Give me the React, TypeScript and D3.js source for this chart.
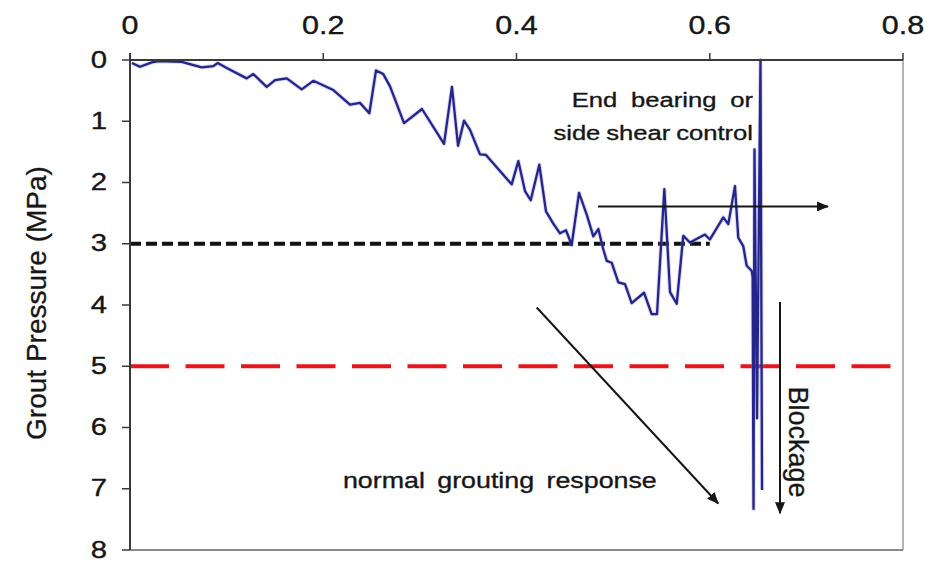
import React from "react";
import * as d3 from "d3";

// Grout pressure trace: volume fraction (x) vs grout pressure in MPa (y, increasing downward)
const traceX = [
  0.002, 0.0103, 0.0225, 0.0293, 0.0535, 0.0742, 0.0862, 0.0908, 0.1001, 0.1208,
  0.1276, 0.1415, 0.1501, 0.1622, 0.1777, 0.1897, 0.2104, 0.2277, 0.238, 0.2477,
  0.2546, 0.2621, 0.2691, 0.2836, 0.3022, 0.325, 0.3332, 0.3395, 0.3457, 0.3519,
  0.3622, 0.3684, 0.395, 0.4019, 0.4088, 0.4147, 0.4236, 0.4305, 0.4381, 0.445,
  0.4512, 0.4571, 0.4647, 0.4726, 0.4795, 0.4847, 0.4898, 0.4934, 0.4985, 0.5054,
  0.5123, 0.5192, 0.532, 0.5399, 0.5454, 0.553, 0.5589, 0.5658, 0.5726, 0.5795,
  0.595, 0.6002, 0.614, 0.6192, 0.6261, 0.6295, 0.6347, 0.6382, 0.6434, 0.6444,
  0.6453, 0.6463, 0.6489, 0.6525, 0.6541,
];
const traceY = [
  0.05, 0.11, 0.04, 0.02, 0.03, 0.12, 0.1, 0.05, 0.13, 0.3,
  0.23, 0.44, 0.33, 0.3, 0.48, 0.34, 0.49, 0.73, 0.7, 0.87,
  0.17, 0.23, 0.43, 1.03, 0.8, 1.37, 0.44, 1.4, 0.99, 1.14,
  1.54, 1.55, 2.03, 1.65, 2.14, 2.29, 1.71, 2.47, 2.67, 2.83,
  2.78, 3.02, 2.17, 2.52, 2.88, 2.76, 3.09, 3.28, 3.31, 3.63,
  3.66, 3.97, 3.8, 4.15, 4.15, 2.11, 3.79, 3.98, 2.87, 2.98,
  2.85, 2.93, 2.57, 2.68, 2.06, 2.9, 3.04, 3.36, 3.44, 3.55,
  7.33, 1.46, 5.85, 0.0, 7.02,
];

const xTicks = [0, 0.2, 0.4, 0.6, 0.8];
const xTickLabels = ["0", "0.2", "0.4", "0.6", "0.8"];
const yTicks = [0, 1, 2, 3, 4, 5, 6, 7, 8];
const yTickLabels = ["0", "1", "2", "3", "4", "5", "6", "7", "8"];

// Reference pressure levels
const controlPressure = 3; // black dashed
const controlPressureEnd = 0.6;
const limitPressure = 5; // red dashed

const W = 940;
const H = 562;
const margin = { left: 130, right: 37, top: 60, bottom: 12 };
const FONT = "'Liberation Sans', Arial, Helvetica, sans-serif";
const SX = 1.22; // horizontal glyph stretch
const INK = "#161616";

type Pt = [number, number];

export default function App() {
  const x = d3
    .scaleLinear()
    .domain([0, 0.8])
    .range([margin.left, W - margin.right]);
  const y = d3
    .scaleLinear()
    .domain([0, 8])
    .range([margin.top, H - margin.bottom]);

  const pts: Pt[] = traceX.map((v, i) => [v, traceY[i]]);
  const line = d3
    .line<Pt>()
    .x((d) => x(d[0]))
    .y((d) => y(d[1]));

  const x0 = x(0);
  const x1 = x(0.8);
  const y0 = y(0);
  const y1 = y(8);

  const stretchedText = (
    px: number,
    py: number,
    txt: string,
    size: number,
    anchor: "start" | "middle" | "end",
    key?: string,
    wordSpacing = 0
  ) => (
    <text
      key={key}
      transform={`translate(${px},${py}) scale(${SX},1)`}
      fontFamily={FONT}
      fontSize={size}
      textAnchor={anchor}
      fill={INK}
      stroke={INK}
      strokeWidth={0.35}
      style={{ wordSpacing: `${wordSpacing}px` }}
    >
      {txt}
    </text>
  );

  const arrows: { from: Pt; to: Pt }[] = [
    { from: [0.4843, 2.39], to: [0.7224, 2.39] },
    { from: [0.4209, 4.04], to: [0.6088, 7.24] },
    { from: [0.6727, 3.95], to: [0.6727, 7.4] },
  ];

  return (
    <svg
      width={W}
      height={H}
      style={{ position: "absolute", left: 0, top: 0, background: "#fff" }}
    >
      <defs>
        <marker
          id="head"
          viewBox="0 0 12 10"
          refX="11"
          refY="5"
          markerWidth="12"
          markerHeight="10"
          markerUnits="userSpaceOnUse"
          orient="auto"
        >
          <path d="M0,0 L12,5 L0,10 Z" fill={INK} />
        </marker>
      </defs>

      {/* plot frame: right and bottom edges */}
      <line x1={x1} x2={x1} y1={y0} y2={y1} stroke="#9a9a9a" strokeWidth={1.5} />
      <line x1={x0} x2={x1} y1={y1} y2={y1} stroke="#8a8a8a" strokeWidth={2} />

      {/* reference pressure levels */}
      <line
        x1={x(0)}
        x2={x(controlPressureEnd)}
        y1={y(controlPressure)}
        y2={y(controlPressure)}
        stroke="#111"
        strokeWidth={4}
        strokeDasharray="11,5"
      />
      <line
        x1={x(0)}
        x2={x(0.8)}
        y1={y(limitPressure)}
        y2={y(limitPressure)}
        stroke="#e8141c"
        strokeWidth={4}
        strokeDasharray="39,16.5"
      />

      {/* pressure trace */}
      <path
        d={line(pts) || ""}
        fill="none"
        stroke="#8a8ad8"
        strokeOpacity={0.35}
        strokeWidth={4.2}
        strokeLinejoin="round"
      />
      <path
        d={line(pts) || ""}
        fill="none"
        stroke="#24248a"
        strokeWidth={2.3}
        strokeLinejoin="round"
      />

      {/* annotation arrows */}
      {arrows.map((a, i) => (
        <line
          key={i}
          x1={x(a.from[0])}
          y1={y(a.from[1])}
          x2={x(a.to[0])}
          y2={y(a.to[1])}
          stroke={INK}
          strokeWidth={2}
          markerEnd="url(#head)"
        />
      ))}

      {/* annotation labels */}
      {stretchedText(x(0.6448), y(0.76), "End bearing or", 21, "end", "a1", 5.5)}
      {stretchedText(x(0.6448), y(1.3), "side shear control", 21, "end", "a2", -1)}
      {stretchedText(x(0.2204), y(6.99), "normal grouting response", 22, "start", "a3", 4)}
      <text
        transform={`translate(${x(0.6825)},${y(5.33)}) rotate(90)`}
        fontFamily={FONT}
        fontSize={27}
        textAnchor="start"
        fill={INK}
        stroke={INK}
        strokeWidth={0.3}
      >
        Blockage
      </text>

      {/* top x axis */}
      <line x1={x0} x2={x1} y1={y0} y2={y0} stroke="#3a3a3a" strokeWidth={2} />
      {xTicks.map((t, i) => (
        <g key={`xt${i}`}>
          <line x1={x(t)} x2={x(t)} y1={y0 - 7} y2={y0} stroke="#3a3a3a" strokeWidth={1.5} />
          {stretchedText(x(t), 34, xTickLabels[i], 25, "middle")}
        </g>
      ))}

      {/* left y axis */}
      <line x1={x0} x2={x0} y1={y0 - 7} y2={y1} stroke="#3a3a3a" strokeWidth={2} />
      {yTicks.map((t, i) => (
        <g key={`yt${i}`}>
          <line x1={x0 - 8} x2={x0} y1={y(t)} y2={y(t)} stroke="#3a3a3a" strokeWidth={1.5} />
          {stretchedText(107, y(t) + 7.5, yTickLabels[i], 24, "end")}
        </g>
      ))}

      <text
        transform={`translate(46,${(y0 + y1) / 2 - 2}) rotate(-90)`}
        fontFamily={FONT}
        fontSize={28}
        textAnchor="middle"
        fill={INK}
        stroke={INK}
        strokeWidth={0.3}
      >
        Grout Pressure (MPa)
      </text>
    </svg>
  );
}
